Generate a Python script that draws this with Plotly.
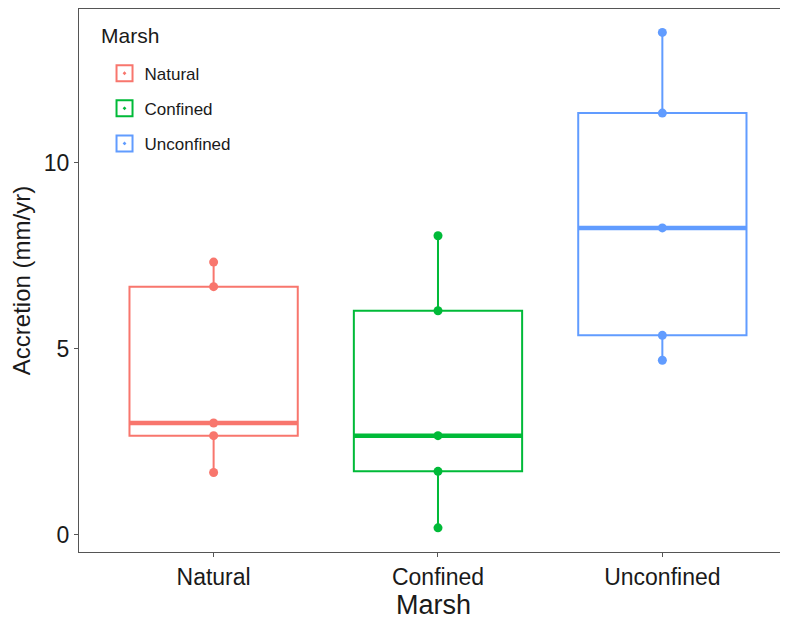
import numpy as np
import plotly.graph_objects as go

# accretion (mm/yr) per marsh type
marshes = ["Natural", "Confined", "Unconfined"]
natural = [1.67, 2.66, 3.00, 6.67, 7.33]
confined = [0.18, 1.70, 2.66, 6.02, 8.04]
unconfined = [4.69, 5.36, 8.25, 11.34, 13.51]
colors = ["#F8766D", "#00BA38", "#619CFF"]

values = [natural, confined, unconfined]
box_half = 0.375

fig = go.Figure()

for i, (name, vals, col) in enumerate(zip(marshes, values, colors)):
    fig.add_trace(go.Box(
        x=[name] * len(vals),
        y=vals,
        name=name,
        showlegend=False,
        boxpoints="all",
        jitter=0,
        pointpos=0,
        quartilemethod="inclusive",
        whiskerwidth=0,
        width=2 * box_half,
        fillcolor="rgba(0,0,0,0)",
        line=dict(color=col, width=2),
        marker=dict(color=col, size=9),
        hoverinfo="y",
    ))
    # thick median line, as ggplot draws it
    med = float(np.median(vals))
    fig.add_shape(type="line", xref="x", yref="y",
                  x0=i - box_half, x1=i + box_half, y0=med, y1=med,
                  line=dict(color=col, width=4.5), layer="above")
    # legend entry: box with a point
    fig.add_trace(go.Scatter(
        x=[None], y=[None], mode="markers", name=name, legendgroup=name,
        marker=dict(symbol="square-open-dot", size=18, color=col,
                    line=dict(color=col, width=2)),
    ))

# legend title as a separate label (more room above the items, like ggplot)
fig.add_annotation(text="Marsh", xref="paper", yref="paper",
                   x=0.028, y=0.952, xanchor="left", yanchor="middle",
                   showarrow=False, font=dict(size=21, color="#1a1a1a"))

# the page body has an 8px margin, so the figure is sized 8px smaller
fig.update_layout(
    width=780, height=612,
    paper_bgcolor="white", plot_bgcolor="white",
    margin=dict(l=71, r=0, t=1, b=68),
    font=dict(family="Liberation Sans, Arial, sans-serif", color="#1a1a1a"),
    showlegend=True,
    legend=dict(
        x=0.036, y=0.914, xanchor="left", yanchor="top",
        font=dict(size=17, color="#1a1a1a"),
        bgcolor="rgba(0,0,0,0)",
        tracegroupgap=10,
    ),
)

fig.update_xaxes(
    type="category",
    categoryorder="array", categoryarray=marshes,
    range=[-0.6, 2.56],
    showgrid=False, zeroline=False,
    showline=True, linecolor="#555555", linewidth=1.2, mirror=True,
    ticks="outside", ticklen=4, tickcolor="#555555",
    tickfont=dict(size=23, color="#1a1a1a"),
    title=dict(text="Marsh", font=dict(size=27, color="#1a1a1a"), standoff=2),
)

fig.update_yaxes(
    range=[-0.47, 14.14],
    tickvals=[0, 5, 10],
    showgrid=False, zeroline=False,
    showline=True, linecolor="#555555", linewidth=1.2,
    ticks="outside", ticklen=4, tickcolor="#555555",
    tickfont=dict(size=23, color="#1a1a1a"),
    title=dict(text="Accretion (mm/yr)", font=dict(size=24, color="#1a1a1a"), standoff=8),
)

fig.write_html("out.html")
